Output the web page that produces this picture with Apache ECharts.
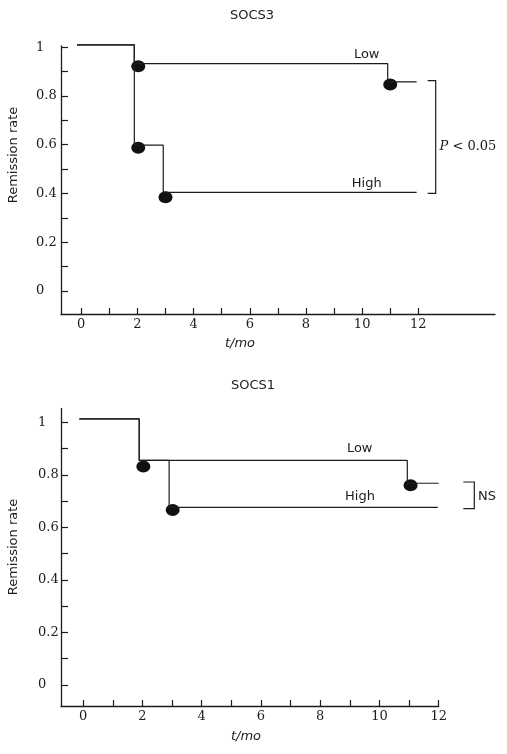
<!DOCTYPE html>
<html>
<head>
<meta charset="utf-8">
<script src="https://cdn.jsdelivr.net/npm/echarts@6/dist/echarts.min.js"></script>
<style>
html,body{margin:0;padding:0;background:#fff;}
#chart{width:507px;height:754px;}
</style>
</head>
<body>
<div id="chart"></div>
<script>
// ---- tick values ----
const xTickValues = [0,1,2,3,4,5,6,7,8,9,10,11,12];
const xLabelValues = [0,2,4,6,8,10,12];
const yTickValues = [0,0.1,0.2,0.3,0.4,0.5,0.6,0.7,0.8,0.9,1];
const yLabelValues = [0,0.2,0.4,0.6,0.8,1];

// ---- SOCS3 (top panel) ----
const socs3LowTimes  = [-0.15, 1.89, 10.91, 11.94];
const socs3LowRates  = [1.01, 0.933, 0.858, 0.858];
const socs3HighTimes = [-0.15, 1.89, 2.92, 11.94];
const socs3HighRates = [1.01, 0.598, 0.404, 0.404];
const socs3LowDotTimes  = [2.03, 11.0];
const socs3LowDotRates  = [0.922, 0.847];
const socs3HighDotTimes = [2.03, 3.0];
const socs3HighDotRates = [0.587, 0.384];

// ---- SOCS1 (bottom panel) ----
const socs1LowTimes  = [-0.13, 1.89, 10.94, 12.0];
const socs1LowRates  = [1.013, 0.855, 0.768, 0.768];
const socs1HighTimes = [-0.13, 1.89, 2.9, 11.97];
const socs1HighRates = [1.013, 0.855, 0.676, 0.676];
const socs1LowDotTimes  = [2.03, 11.05];
const socs1LowDotRates  = [0.832, 0.76];
const socs1HighDotTimes = [3.02];
const socs1HighDotRates = [0.666];

const ink = '#1c1c1c';
const serif = 'DejaVu Serif';
const sans = 'DejaVu Sans';

function zip(a, b) { return a.map((v, i) => [v, b[i]]); }
function fmt(v) { return String(Math.round(v * 10) / 10); }

function xAxisCfg(gi, min, max) {
  return {
    gridIndex: gi, type: 'value', min: min, max: max,
    axisLine: { show: true, onZero: false, lineStyle: { color: ink, width: 1.3 } },
    axisTick: { show: true, inside: true, length: 6, customValues: xTickValues, lineStyle: { color: ink, width: 1.2 } },
    axisLabel: { customValues: xLabelValues, margin: 4, fontFamily: serif, fontSize: 13, color: ink, formatter: fmt },
    splitLine: { show: false }
  };
}
function yAxisCfg(gi, min, max, margin) {
  return {
    gridIndex: gi, type: 'value', min: min, max: max,
    axisLine: { show: true, onZero: false, lineStyle: { color: ink, width: 1.3 } },
    axisTick: { show: true, inside: true, length: 7, customValues: yTickValues, lineStyle: { color: ink, width: 1.2 } },
    axisLabel: { customValues: yLabelValues, align: 'left', margin: margin, fontFamily: serif, fontSize: 13, color: ink, formatter: fmt },
    splitLine: { show: false }
  };
}
function stepLine(ai, t, r) {
  return { type: 'line', xAxisIndex: ai, yAxisIndex: ai, step: 'end', data: zip(t, r),
    symbol: 'none', clip: false, silent: true, lineStyle: { color: ink, width: 1.2 } };
}
function dots(ai, t, r) {
  return { type: 'scatter', xAxisIndex: ai, yAxisIndex: ai, data: zip(t, r),
    symbol: 'circle', symbolSize: [14, 12], clip: false, silent: true, itemStyle: { color: '#111', opacity: 1 } };
}
function txt(x, y, text, font, extra) {
  return { type: 'text', x: x, y: y, silent: true,
    style: Object.assign({ text: text, font: font, fill: ink, align: 'center', verticalAlign: 'middle' }, extra || {}) };
}
function vtxt(x, y, text, font) {
  return { type: 'text', x: x, y: y, rotation: Math.PI / 2, silent: true,
    style: { text: text, font: font, fill: ink, align: 'center', verticalAlign: 'middle' } };
}
function bracket(pts) {
  return { type: 'polyline', silent: true, shape: { points: pts }, style: { stroke: ink, lineWidth: 1.2, fill: null } };
}

const chart = echarts.init(document.getElementById('chart'), null, { renderer: 'canvas' });
chart.setOption({
  animation: false,
  backgroundColor: '#fff',
  grid: [
    { left: 61, top: 46, width: 434, height: 268 },
    { left: 61, top: 408.5, width: 377.7, height: 297.5 }
  ],
  xAxis: [ xAxisCfg(0, -0.72, 14.73), xAxisCfg(1, -0.75, 12) ],
  yAxis: [ yAxisCfg(0, -0.095, 1.005, 25), yAxisCfg(1, -0.08, 1.0525, 23) ],
  series: [
    stepLine(0, socs3LowTimes, socs3LowRates),
    stepLine(0, socs3HighTimes, socs3HighRates),
    dots(0, socs3LowDotTimes, socs3LowDotRates),
    dots(0, socs3HighDotTimes, socs3HighDotRates),
    stepLine(1, socs1LowTimes, socs1LowRates),
    stepLine(1, socs1HighTimes, socs1HighRates),
    dots(1, socs1LowDotTimes, socs1LowDotRates),
    dots(1, socs1HighDotTimes, socs1HighDotRates)
  ],
  graphic: [
    txt(252, 16, 'SOCS3', '13px ' + sans),
    txt(253, 386, 'SOCS1', '13px ' + sans),
    vtxt(14, 155, 'Remission rate', '13px ' + sans),
    vtxt(14, 547, 'Remission rate', '13px ' + sans),
    txt(240, 344, 't/mo', 'italic 13px ' + sans),
    txt(246, 737, 't/mo', 'italic 13px ' + sans),
    txt(366.7, 55, 'Low', '13px ' + sans),
    txt(366.7, 184, 'High', '13px ' + sans),
    txt(359.7, 449, 'Low', '13px ' + sans),
    txt(360, 497, 'High', '13px ' + sans),
    bracket([[427.7, 80.7], [435.7, 80.7], [435.7, 193.3], [427.7, 193.3]]),
    bracket([[463.3, 482], [474.3, 482], [474.3, 508.7], [463.3, 508.7]]),
    { type: 'text', x: 439.5, y: 146.7, silent: true,
      style: { text: '{p|P} < 0.05', font: '13px ' + serif, fill: ink, align: 'left', verticalAlign: 'middle',
        rich: { p: { fontStyle: 'italic', fontFamily: serif, fontSize: 13, fill: ink } } } },
    txt(478, 496.7, 'NS', '13px ' + sans, { align: 'left' })
  ]
});
</script>
</body>
</html>
